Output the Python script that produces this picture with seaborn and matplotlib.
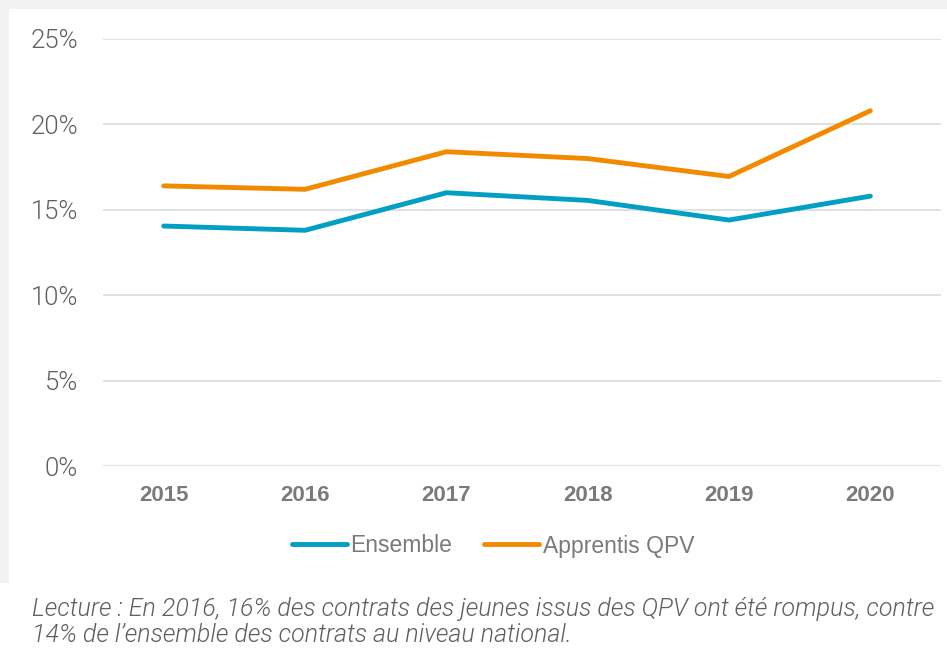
import matplotlib
matplotlib.use("Agg")
import matplotlib.pyplot as plt
import matplotlib.patches as mpatches
from matplotlib.ticker import FuncFormatter
import seaborn as sns
import pandas as pd

# data
years = ["2015", "2016", "2017", "2018", "2019", "2020"]
ensemble = [14.05, 13.8, 16.0, 15.55, 14.4, 15.8]
apprentis_qpv = [16.4, 16.2, 18.4, 18.0, 16.95, 20.8]
series_names = ["Ensemble", "Apprentis QPV"]
caption = ("Lecture : En 2016, 16% des contrats des jeunes issus des QPV ont été rompus, contre\n"
           "14% de l\u2019ensemble des contrats au niveau national.")

colors = {"Ensemble": "#009FC3", "Apprentis QPV": "#F28A00"}

df = pd.DataFrame({
    "year": years * 2,
    "value": ensemble + apprentis_qpv,
    "serie": [series_names[0]] * len(years) + [series_names[1]] * len(years),
})

sns.set_theme(style="white")
plt.rcParams["font.family"] = ["Liberation Sans", "DejaVu Sans"]
thin_font = ["Roboto", "DejaVu Sans"]

fig = plt.figure(figsize=(9.47, 6.54), dpi=100)
fig.patch.set_facecolor("white")
# grey frame strips at top and left
fig.add_artist(mpatches.Rectangle((0, 1 - 9 / 654), 1, 9 / 654, transform=fig.transFigure,
                                  facecolor="#f2f2f2", edgecolor="none", zorder=0))
fig.add_artist(mpatches.Rectangle((0, 1 - 583 / 654), 9 / 947, 583 / 654, transform=fig.transFigure,
                                  facecolor="#f2f2f2", edgecolor="none", zorder=0))

ax = fig.add_axes([103 / 947, 1 - 466 / 654, 838 / 947, 427 / 654])
ax.set_facecolor("none")

sns.lineplot(data=df, x="year", y="value", hue="serie", palette=colors,
             linewidth=3.5, ax=ax, sort=False, legend=False,
             solid_capstyle="round", solid_joinstyle="round")

ax.set_ylim(0, 25)
ax.set_xlim(-0.43, 5.5)
ax.set_yticks([0, 5, 10, 15, 20, 25])
ax.yaxis.set_major_formatter(FuncFormatter(lambda v, p: f"{v:.0f}%"))
ax.grid(axis="y", color="#d9d9d9", linewidth=1.1)
ax.set_axisbelow(True)
for s in ax.spines.values():
    s.set_visible(False)
ax.set_xlabel("")
ax.set_ylabel("")
ax.tick_params(axis="both", length=0)
ax.tick_params(axis="y", pad=18)
ax.tick_params(axis="x", pad=14)

for lab in ax.get_yticklabels():
    lab.set_fontfamily(thin_font)
    lab.set_fontweight(300)
    lab.set_fontsize(18.5)
    lab.set_color("#5f5f5f")
for lab in ax.get_xticklabels():
    lab.set_fontweight("bold")
    lab.set_fontsize(16)
    lab.set_color("#7a7a7a")

handles = [plt.Line2D([], [], color=colors[n], linewidth=3.5, solid_capstyle="round") for n in series_names]
leg = fig.legend(handles, series_names, loc="center", bbox_to_anchor=(493 / 947, 1 - 546 / 654),
                 ncol=2, frameon=False, fontsize=16.5, handlelength=2.4, handletextpad=0.15,
                 columnspacing=1.4)
for t in leg.get_texts():
    t.set_color("#7a7a7a")

fig.text(32 / 947, 1 - 622 / 654, caption, fontsize=18, style="italic", fontweight=300,
         family=thin_font, color="#5f5f5f", va="center", ha="left", linespacing=1.12)

fig.savefig("out.png", dpi=100)
